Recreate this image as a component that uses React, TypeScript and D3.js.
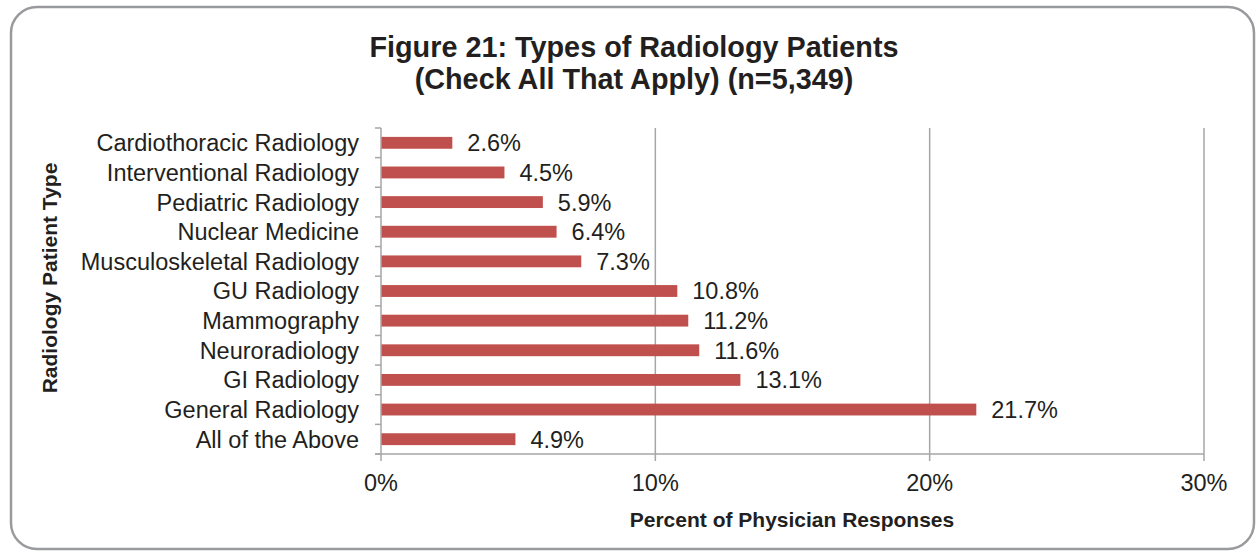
import React, { useEffect, useRef } from 'react';
import * as d3 from 'd3';

const categories = [
  'Cardiothoracic Radiology',
  'Interventional Radiology',
  'Pediatric Radiology',
  'Nuclear Medicine',
  'Musculoskeletal Radiology',
  'GU Radiology',
  'Mammography',
  'Neuroradiology',
  'GI Radiology',
  'General Radiology',
  'All of the Above',
];
const values = [2.6, 4.5, 5.9, 6.4, 7.3, 10.8, 11.2, 11.6, 13.1, 21.7, 4.9];
const xTicks = [0, 10, 20, 30];

const App = () => {
  const svgRef = useRef<SVGSVGElement>(null);

  useEffect(() => {
    const width = 1256;
    const height = 554;
    const font = '"Liberation Sans", Arial, sans-serif';
    const axisColor = '#a6a6a6';
    const textColor = '#231f20';
    const labelSize = 23.5;

    const svg = d3.select(svgRef.current).attr('width', width).attr('height', height);
    svg.selectAll('*').remove();

    // outer frame
    svg.append('rect')
      .attr('x', 11).attr('y', 7)
      .attr('width', 1243).attr('height', 542)
      .attr('rx', 26).attr('ry', 26)
      .attr('fill', 'white')
      .attr('stroke', '#999a9d')
      .attr('stroke-width', 2.5);

    const left = 381, right = 1204, top = 128, bottom = 454;

    const x = d3.scaleLinear().domain([0, 30]).range([left, right]);
    const y = d3.scaleBand().domain(categories).range([top, bottom])
      .paddingInner(0.6).paddingOuter(0.3);

    // gridlines
    svg.append('g').selectAll('line')
      .data(xTicks.filter((t) => t > 0))
      .enter().append('line')
      .attr('x1', (d) => x(d)).attr('x2', (d) => x(d))
      .attr('y1', top).attr('y2', bottom + 7)
      .attr('stroke', axisColor).attr('stroke-width', 1.5);

    // bars
    svg.append('g').selectAll('rect')
      .data(categories)
      .enter().append('rect')
      .attr('x', x(0))
      .attr('y', (d) => y(d)!)
      .attr('width', (d, i) => x(values[i]) - x(0))
      .attr('height', y.bandwidth())
      .attr('fill', '#c0504d');

    // value labels
    svg.append('g').selectAll('text')
      .data(categories)
      .enter().append('text')
      .attr('x', (d, i) => x(values[i]) + 15)
      .attr('y', (d) => y(d)! + y.bandwidth() / 2)
      .attr('dy', '0.36em')
      .attr('font-family', font).attr('font-size', labelSize)
      .attr('fill', textColor)
      .text((d, i) => `${values[i].toFixed(1)}%`);

    // y axis line + ticks
    svg.append('line')
      .attr('x1', left).attr('x2', left)
      .attr('y1', top).attr('y2', bottom + 7)
      .attr('stroke', axisColor).attr('stroke-width', 1.5);
    const step = y.step();
    const bounds = d3.range(categories.length + 1).map((i) => top + i * step);
    svg.append('g').selectAll('line')
      .data(bounds)
      .enter().append('line')
      .attr('x1', left - 6).attr('x2', left)
      .attr('y1', (d) => d).attr('y2', (d) => d)
      .attr('stroke', axisColor).attr('stroke-width', 1.5);

    // x axis line
    svg.append('line')
      .attr('x1', left - 6).attr('x2', right)
      .attr('y1', bottom).attr('y2', bottom)
      .attr('stroke', axisColor).attr('stroke-width', 1.5);

    // category labels
    svg.append('g').selectAll('text')
      .data(categories)
      .enter().append('text')
      .attr('x', 359)
      .attr('y', (d) => y(d)! + y.bandwidth() / 2)
      .attr('dy', '0.36em')
      .attr('text-anchor', 'end')
      .attr('font-family', font).attr('font-size', labelSize)
      .attr('fill', textColor)
      .text((d) => d);

    // x tick labels
    svg.append('g').selectAll('text')
      .data(xTicks)
      .enter().append('text')
      .attr('x', (d) => x(d))
      .attr('y', 491)
      .attr('text-anchor', 'middle')
      .attr('font-family', font).attr('font-size', labelSize)
      .attr('fill', textColor)
      .text((d) => `${d}%`);

    // titles
    const title = svg.append('text')
      .attr('text-anchor', 'middle')
      .attr('font-family', font).attr('font-size', 28.8).attr('font-weight', 'bold')
      .attr('fill', textColor);
    title.append('tspan').attr('x', 634).attr('y', 57).text('Figure 21: Types of Radiology Patients');
    title.append('tspan').attr('x', 634).attr('y', 89).text('(Check All That Apply) (n=5,349)');

    svg.append('text')
      .attr('x', 792).attr('y', 527)
      .attr('text-anchor', 'middle')
      .attr('font-family', font).attr('font-size', 21).attr('font-weight', 'bold')
      .attr('fill', textColor)
      .text('Percent of Physician Responses');

    svg.append('text')
      .attr('transform', 'translate(57,278) rotate(-90)')
      .attr('text-anchor', 'middle')
      .attr('font-family', font).attr('font-size', 21).attr('font-weight', 'bold')
      .attr('fill', textColor)
      .text('Radiology Patient Type');
  }, []);

  return <svg ref={svgRef} style={{ position: 'absolute', left: 0, top: 0 }}></svg>;
};

export default App;
